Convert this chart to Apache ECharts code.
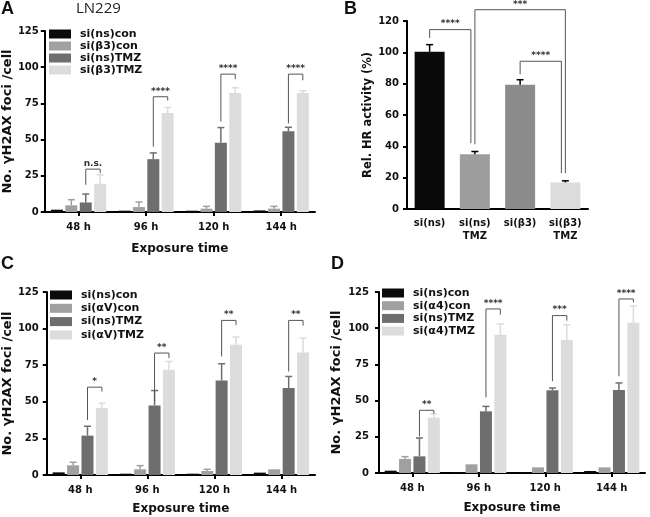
<!DOCTYPE html>
<html><head><meta charset="utf-8">
<script src="https://cdn.jsdelivr.net/npm/echarts@6/dist/echarts.min.js"></script>
<style>html,body{margin:0;padding:0;background:#fff}#c{width:650px;height:517px}</style>
</head><body><div id="c"></div><script>
// ---------- DATA ----------
const timeCats = ['48 h', '96 h', '120 h', '144 h'];
const yTicksFoci = [0, 25, 50, 75, 100, 125];
const yTicksHR = [0, 20, 40, 60, 80, 100, 120];

// Panel A (LN229, beta3)
const aNames = ['si(ns)con', 'si(β3)con', 'si(ns)TMZ', 'si(β3)TMZ'];
const aNsCon = [1.6, 0.9, 0.9, 1.1];
const aB3Con = [4.6, 3.4, 2.3, 2.3];
const aNsTmz = [6.6, 36.5, 47.9, 55.7];
const aB3Tmz = [19.5, 68.3, 82.1, 82.1];
const aNsConHi = [1.6, 0.9, 0.9, 1.1];
const aB3ConHi = [8.5, 6.9, 3.9, 3.9];
const aNsTmzHi = [12.4, 40.8, 58.3, 58.5];
const aB3TmzHi = [25.7, 72.2, 85.8, 83.7];
const aSigTop = [29.6, 79.6, 95.2, 95.2];
const aSigLeft = [18.8, 45, 62.4, 61.2];
const aSigRight = [26.8, 77, 91.7, 91];
const aSigLabel = ['n.s.', '****', '****', '****'];

// Panel B (HR activity)
const bCats = ['si(ns)', 'si(ns)\nTMZ', 'si(β3)', 'si(β3)\nTMZ'];
const bVals = [100.3, 35, 79.3, 17];
const bHi = [104.9, 36.7, 82.5, 18];
const bSigFrom = [0, 1, 2];
const bSigTo = [1, 3, 3];
const bSigTop = [114.5, 127.2, 94.3];
const bSigLeft = [109.2, 41.3, 86];
const bSigRight = [42, 22.9, 22.9];
const bSigLabel = ['****', '***', '****'];

// Panel C (alphaV)
const cNames = ['si(ns)con', 'si(αV)con', 'si(ns)TMZ', 'si(αV)TMZ'];
const cNsCon = [1.8, 0.9, 0.9, 1.6];
const cAvCon = [6.6, 3.9, 2.7, 3.9];
const cNsTmz = [26.9, 47.4, 64.6, 59.5];
const cAvTmz = [45.8, 71.9, 89, 83.7];
const cNsConHi = [1.8, 0.9, 0.9, 1.6];
const cAvConHi = [8.7, 6.4, 3.9, 3.9];
const cNsTmzHi = [33.3, 57.7, 76, 67.3];
const cAvTmzHi = [49, 77.6, 94.2, 93.5];
const cSigTop = [60, 83.3, 105.6, 105.6];
const cSigLeft = [37.6, 50.2, 81, 70.7];
const cSigRight = [57, 79.8, 102.4, 102];
const cSigLabel = ['*', '**', '**', '**'];

// Panel D (alpha4)
const dNames = ['si(ns)con', 'si(α4)con', 'si(ns)TMZ', 'si(α4)TMZ'];
const dNsCon = [1.6, 0.7, 0.7, 1.4];
const dA4Con = [9.7, 6, 3.9, 3.9];
const dNsTmz = [11.5, 42.6, 57.1, 57.3];
const dA4Tmz = [38.2, 95.5, 91.8, 103.8];
const dNsConHi = [1.6, 0.7, 0.7, 1.4];
const dA4ConHi = [11.3, 6, 3.9, 3.9];
const dNsTmzHi = [24.2, 46, 58.7, 62.2];
const dA4TmzHi = [40.8, 102.9, 102.4, 115.3];
const dSigTop = [43.3, 113.3, 108.7, 120.2];
const dSigLeft = [25.3, 52.3, 63.4, 66.8];
const dSigRight = [41, 109.4, 105.2, 117.9];
const dSigLabel = ['**', '****', '***', '****'];

// ---------- STYLE ----------
const F = 'DejaVu Sans';
const grays = ['#0a0a0a', '#a0a0a0', '#6e6e6e', '#dcdcdc'];
const bColors = ['#0a0a0a', '#9e9e9e', '#8c8c8c', '#dcdcdc'];
const BW = 12, GAP = 0.2, STEP = BW * (1 + GAP);

function xAx(grid, cats, name, ticks, margin, nameGap) {
  return {
    type: 'category', gridIndex: grid, data: cats,
    name: name, nameLocation: 'middle', nameGap: nameGap,
    nameTextStyle: {fontFamily: F, fontWeight: 'bold', fontSize: 12, color: '#111'},
    axisLine: {show: true, lineStyle: {color: '#000', width: 2}},
    axisTick: {show: ticks, alignWithLabel: true, length: 4, lineStyle: {color: '#000', width: 2}},
    axisLabel: {margin: margin, fontFamily: F, fontWeight: 'bold', fontSize: 10, color: '#111', lineHeight: 13, interval: 0},
    splitLine: {show: false}
  };
}
function yAx(grid, ticks, name, nameGap, margin, nameSize) {
  return {
    type: 'value', gridIndex: grid, min: ticks[0], max: ticks[ticks.length - 1],
    interval: ticks[1] - ticks[0],
    name: name, nameLocation: 'middle', nameGap: nameGap, nameRotate: 90,
    nameTextStyle: {fontFamily: F, fontWeight: 'bold', fontSize: nameSize, color: '#111'},
    axisLine: {show: true, lineStyle: {color: '#000', width: 2}},
    axisTick: {show: true, length: 4, lineStyle: {color: '#000', width: 2}},
    axisLabel: {margin: margin, fontFamily: F, fontWeight: 'bold', fontSize: 10, color: '#111'},
    splitLine: {show: false}
  };
}
function barSeries(grid, names, arrays) {
  return arrays.map((arr, i) => ({
    type: 'bar', name: names[i], xAxisIndex: grid, yAxisIndex: grid,
    data: arr, barWidth: BW, barGap: (GAP * 100) + '%',
    itemStyle: {color: grays[i]}, emphasis: {disabled: true}
  }));
}
function errSeries(grid, means, highs, n, step, palette) {
  const data = [];
  means.forEach((arr, i) => arr.forEach((v, j) => data.push([j, i, v, highs[i][j]])));
  return {
    type: 'custom', xAxisIndex: grid, yAxisIndex: grid, clip: false, silent: true,
    encode: {x: 0, y: 3}, data: data, z: 3,
    renderItem: function (params, api) {
      const j = api.value(0), i = api.value(1), m = api.value(2), u = api.value(3);
      if (!(u > m + 0.05)) return null;
      const p0 = api.coord([j, m]), p1 = api.coord([j, u]);
      const x = p0[0] + (i - (n - 1) / 2) * step;
      const col = palette[i];
      return {type: 'group', children: [
        {type: 'line', shape: {x1: x, y1: p0[1], x2: x, y2: p1[1]}, style: {stroke: col, lineWidth: 1.5}},
        {type: 'line', shape: {x1: x - 3.5, y1: p1[1], x2: x + 3.5, y2: p1[1]}, style: {stroke: col, lineWidth: 1.5}}
      ]};
    }
  };
}
function bracketGroup(lx, rx, yt, yl, yr, label) {
  return {type: 'group', children: [
    {type: 'polyline', shape: {points: [[lx, yl], [lx, yt], [rx, yt], [rx, yr]]},
     style: {stroke: '#555', lineWidth: 1, fill: null}},
    {type: 'text', x: (lx + rx) / 2, y: yt - 1,
     style: {text: label, fill: '#333', font: 'bold 9px "' + F + '"', align: 'center', verticalAlign: 'bottom'}}
  ]};
}
function sigSeries(grid, tops, lefts, rights, labels) {
  const data = tops.map((t, j) => [j, t, lefts[j], rights[j]]);
  return {
    type: 'custom', xAxisIndex: grid, yAxisIndex: grid, clip: false, silent: true,
    encode: {x: 0, y: 1}, data: data, z: 4,
    renderItem: function (params, api) {
      const j = api.value(0);
      const pt = api.coord([j, api.value(1)]);
      const pl = api.coord([j, api.value(2)]);
      const pr = api.coord([j, api.value(3)]);
      const lx = pt[0] + 0.5 * STEP, rx = pt[0] + 1.5 * STEP;
      return bracketGroup(lx, rx, pt[1], pl[1], pr[1], labels[params.dataIndex]);
    }
  };
}
function sigSeriesB(grid) {
  const data = bSigTop.map((t, k) => [bSigFrom[k], bSigTo[k], t, bSigLeft[k], bSigRight[k]]);
  return {
    type: 'custom', xAxisIndex: grid, yAxisIndex: grid, clip: false, silent: true,
    encode: {x: 0, y: 2}, data: data, z: 4,
    renderItem: function (params, api) {
      const k = params.dataIndex;
      const pL = api.coord([api.value(0), api.value(3)]);
      const pR = api.coord([api.value(1), api.value(4)]);
      const yt = api.coord([api.value(0), api.value(2)])[1];
      const nudge = (k === 1) ? 0 : 4;
      return bracketGroup(pL[0], pR[0] - nudge, yt, pL[1], pR[1], bSigLabel[k]);
    }
  };
}
function legendAt(names, left, top, gap) {
  return {
    data: names, orient: 'vertical', left: left, top: top, itemGap: gap,
    itemWidth: 22, itemHeight: 9, icon: 'rect', padding: 0, selectedMode: false,
    textStyle: {fontFamily: F, fontWeight: 'bold', fontSize: 11, lineHeight: 12, color: '#111', padding: [0, 0, 0, 4]}
  };
}

const titleStyle = {fontFamily: 'Liberation Sans', fontWeight: 'bold', fontSize: 18, color: '#111'};
const option = {
  backgroundColor: '#fff',
  animation: false,
  title: [
    {text: 'A', left: 1, top: 0, padding: 0, textStyle: titleStyle},
    {text: 'LN229', left: 76, top: 1, padding: 0, textStyle: {fontFamily: 'Open Sans', fontWeight: 'normal', fontSize: 15, color: '#222'}},
    {text: 'B', left: 344, top: 0, padding: 0, textStyle: titleStyle},
    {text: 'C', left: 1, top: 255, padding: 0, textStyle: titleStyle},
    {text: 'D', left: 331, top: 255, padding: 0, textStyle: titleStyle}
  ],
  legend: [
    legendAt(aNames, 49, 28, 0),
    legendAt(cNames, 50, 289, 1.3),
    legendAt(dNames, 382, 287, 0.7)
  ],
  grid: [
    {left: 40, top: 31, width: 275, height: 181},
    {left: 407, top: 21, width: 181, height: 188},
    {left: 45, top: 292, width: 270, height: 183},
    {left: 379, top: 292, width: 266, height: 181}
  ],
  xAxis: [
    xAx(0, timeCats, 'Exposure time', true, 9, 31),
    xAx(1, bCats, '', false, 8, 29),
    xAx(2, timeCats, 'Exposure time', true, 9, 28),
    xAx(3, timeCats, 'Exposure time', true, 9, 29)
  ],
  yAxis: [
    yAx(0, yTicksFoci, 'No. γH2AX foci /cell', 27, 6, 13),
    yAx(1, yTicksHR, 'Rel. HR activity (%)', 28, 8, 11.5),
    yAx(2, yTicksFoci, 'No. γH2AX foci /cell', 32, 8, 13),
    yAx(3, yTicksFoci, 'No. γH2AX foci /cell', 36, 10, 13)
  ],
  series: [].concat(
    barSeries(0, aNames, [aNsCon, aB3Con, aNsTmz, aB3Tmz]),
    [{type: 'bar', name: 'HR', xAxisIndex: 1, yAxisIndex: 1, barWidth: 30,
      data: bVals.map((v, i) => ({value: v, itemStyle: {color: bColors[i]}})), emphasis: {disabled: true}}],
    barSeries(2, cNames, [cNsCon, cAvCon, cNsTmz, cAvTmz]),
    barSeries(3, dNames, [dNsCon, dA4Con, dNsTmz, dA4Tmz]),
    [
      errSeries(0, [aNsCon, aB3Con, aNsTmz, aB3Tmz], [aNsConHi, aB3ConHi, aNsTmzHi, aB3TmzHi], 4, STEP, grays),
      errSeries(1, [bVals], [bHi], 1, 0, ['#000']),
      errSeries(2, [cNsCon, cAvCon, cNsTmz, cAvTmz], [cNsConHi, cAvConHi, cNsTmzHi, cAvTmzHi], 4, STEP, grays),
      errSeries(3, [dNsCon, dA4Con, dNsTmz, dA4Tmz], [dNsConHi, dA4ConHi, dNsTmzHi, dA4TmzHi], 4, STEP, grays),
      sigSeries(0, aSigTop, aSigLeft, aSigRight, aSigLabel),
      sigSeriesB(1),
      sigSeries(2, cSigTop, cSigLeft, cSigRight, cSigLabel),
      sigSeries(3, dSigTop, dSigLeft, dSigRight, dSigLabel)
    ]
  )
};
const chart = echarts.init(document.getElementById('c'), null, {renderer: 'canvas'});
chart.setOption(option);
</script></body></html>
